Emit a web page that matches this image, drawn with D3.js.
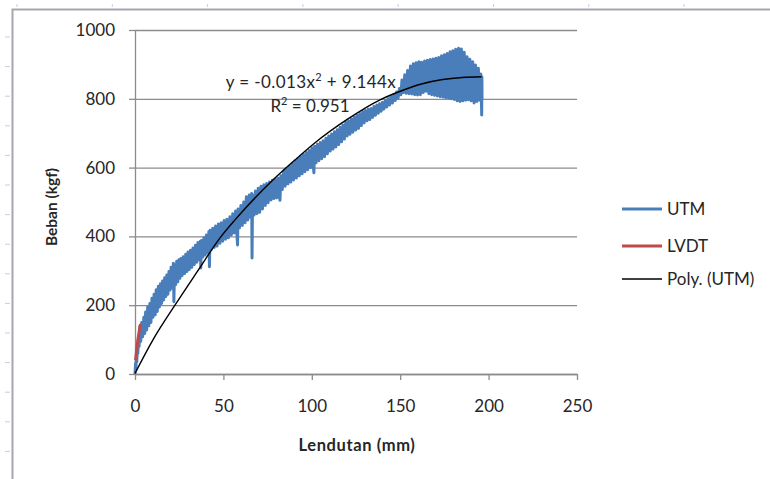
<!DOCTYPE html>
<html>
<head>
<meta charset="utf-8">
<script src="https://cdn.jsdelivr.net/npm/d3@7"></script>
<style>
  html, body { margin: 0; padding: 0; background: #fff; }
  svg text { font-family: Lato, "Open Sans", sans-serif; fill: #262626; }
</style>
</head>
<body>
<div id="container"></div>
<script>
const xTicks = [0, 50, 100, 150, 200, 250];
const yTicks = [0, 200, 400, 600, 800, 1000];

// UTM: deflection (mm), load (kgf) - noisy band
const utmPoints = [
  [0,0],[0.3,30],[0.5,15],[0.8,55],[1,35],[1.4,80],[1.6,60],[2,110],[2.3,80],[2.8,137],[3.2,95],[3.8,150],
  [4.3,108],[5,165],[5.5,118],[6,180],[6.6,128],[7.2,195],[7.8,140],[8.4,205],[9,150],[9.6,220],[10.2,165],
  [10.8,232],[11.4,172],[12,245],[12.6,182],[13.2,255],[13.8,195],[14.4,262],[15,205],[15.6,270],[16.2,215],
  [16.8,280],[17.4,225],[18,288],[18.6,232],[19.2,298],[19.8,244],[20.4,310],[21,250],[21.7,322],[22,210],
  [22.4,318],[23,260],[23.6,328],[24.2,268],[24.8,332],[25.4,278],[26,336],[26.6,286],[27.3,341],[28,292],
  [28.7,348],[29.4,298],[30,355],[30.7,304],[31.4,360],[32.1,310],[32.8,366],[33.5,318],[34.2,374],[34.9,325],
  [35.6,382],[36.3,332],[37,386],[37.2,308],[37.6,388],[38.3,340],[39,396],[39.7,346],[40.4,404],[41.1,352],
  [41.8,414],[42.1,312],[42.5,418],[43.2,362],[44,424],[44.8,368],[45.6,430],[46.4,372],[47.2,436],[48,380],
  [48.8,440],[49.6,386],[50.4,446],[51.2,392],[52,450],[52.8,396],[53.7,457],[54.5,404],[55.3,466],[56.1,410],
  [56.9,474],[57.5,419],[58,375],[58.3,480],[59.1,425],[59.9,490],[60.7,432],[61.5,500],[62.3,440],[63,515],
  [63.8,448],[64.6,520],[65.4,455],[66,525],[66.2,337],[66.5,520],[67.3,462],[68.1,532],[68.9,466],[69.7,540],
  [70.5,470],[71.3,546],[72.1,480],[72.9,550],[73.7,490],[74.5,554],[75.3,498],[76.1,558],[76.9,506],[77.7,563],
  [78.5,510],[79.3,566],[80.1,512],[80.9,570],[81.7,515],[82,505],[82.5,576],[83.3,536],[84.1,590],[84.9,546],
  [85.7,597],[86.5,553],[87.3,604],[88.1,558],[88.9,612],[89.7,564],[90.5,620],[91.3,570],[92.1,626],[92.9,576],
  [93.7,632],[94.5,582],[95.3,638],[96.1,588],[96.9,644],[97.7,594],[98.5,650],[99.3,600],[100.1,658],[100.8,608],
  [101.2,585],[101.6,662],[102.4,614],[103.2,668],[104,620],[104.8,673],[105.6,626],[106.4,678],[107.2,632],
  [108,685],[108.8,640],[109.6,692],[110.4,648],[111.2,698],[112,654],[112.8,704],[113.6,660],[114.4,710],
  [115.2,667],[116,717],[116.8,675],[117.6,724],[118.4,683],[119.2,732],[120,692],[120.8,736],[121.6,697],
  [122.4,741],[123.2,703],[124,747],[124.8,709],[125.6,752],[126.4,714],[127.2,757],[128,722],[128.8,763],
  [129.6,730],[130.4,766],[131.2,736],[132,770],[132.8,740],[133.6,772],[134.4,746],[135.2,778],[136,752],
  [136.8,782],[137.6,758],[138.4,786],[139.2,764],[140,790],[140.8,770],[141.6,795],[142.4,776],[143.2,800],
  [144,782],[144.8,806],[145.6,788],[146.4,812],[147.2,795],[148,820],[148.8,802],[149.6,830],[150.4,812],
  [151,855],[151.8,818],[152.6,870],[153.4,816],[154.2,882],[155,815],[155.8,895],[156.6,814],[157.4,902],
  [158.2,812],[159,905],[159.8,811],[160.6,908],[161.4,812],[162.2,906],[163,818],[163.8,910],[164.6,822],
  [165.4,912],[166.2,815],[167,914],[167.8,812],[168.6,916],[169.4,810],[170.2,918],[171,808],[171.8,920],
  [172.6,806],[173.4,925],[174.2,805],[175,928],[175.8,803],[176.6,932],[177.4,802],[178.2,937],[179,800],
  [179.8,940],[180.6,798],[181.4,944],[182.2,794],[183,947],[183.8,792],[184.6,945],[185.4,794],[186.2,935],
  [187,796],[187.8,922],[188.6,797],[189.4,915],[190.2,794],[191,908],[191.8,788],[192.6,898],[193.4,792],
  [194.2,889],[195,796],[195.6,872],[196.1,753],[196.2,864],[196.3,800]
];

// LVDT: short initial reading near the origin
const lvdtPoints = [
  [0.3,40],[0.8,60],[0.5,50],[1.3,85],[1,75],[1.8,105],[1.5,95],[2.4,125],[2.1,115],[2.9,142],[3.1,135]
];

// Poly. (UTM) trendline
const trendPoints = [
  [0,2],[10,98],[22.6,200],[35,296],[48,395],[60,468],[78,564],[90,620],[100.8,668],[120,740],
  [138.6,797],[150,822],[162,843],[174,856],[185,862],[196,864]
];

const legendItems = [
  {name: "UTM", color: "#4a7ebb", width: 3},
  {name: "LVDT", color: "#be4b48", width: 3},
  {name: "Poly. (UTM)", color: "#000000", width: 1.3}
];

const width = 770, height = 479;
const svg = d3.create("svg").attr("width", width).attr("height", height);

// spreadsheet edge marks and chart frame
svg.append("g").selectAll("line")
  .data(d3.range(37, height, 29.6))
  .join("line")
  .attr("x1", 5).attr("x2", 10).attr("y1", d => d).attr("y2", d => d)
  .attr("stroke", "#c5cfdc").attr("stroke-width", 1);
svg.append("g").selectAll("line")
  .data(d3.range(17, width, 95.3))
  .join("line")
  .attr("x1", d => d).attr("x2", d => d).attr("y1", 4).attr("y2", 7)
  .attr("stroke", "#c5cfdc").attr("stroke-width", 1);
svg.append("rect")
  .attr("x", 12.5).attr("y", 9.5).attr("width", 900).attr("height", 600)
  .attr("fill", "#fff").attr("stroke", "#a4a8ae").attr("stroke-width", 2);

const x = d3.scaleLinear().domain([0, 250]).range([135, 577]);
const y = d3.scaleLinear().domain([0, 1000]).range([374, 30]);

// horizontal gridlines
svg.append("g")
  .attr("transform", `translate(${x(0)},0)`)
  .call(d3.axisLeft(y).tickValues(yTicks).tickSize(-(x(250) - x(0))).tickFormat(""))
  .call(g => g.select(".domain").remove())
  .call(g => g.selectAll("line").attr("stroke", "#8c8c8c").attr("stroke-width", 1.3));

// left axis
svg.append("g")
  .attr("transform", `translate(${x(0)},0)`)
  .call(d3.axisLeft(y).tickValues(yTicks).tickFormat(d3.format("d"))
    .tickSize(6).tickPadding(14).tickSizeOuter(0))
  .call(g => g.select(".domain").attr("stroke", "#8c8c8c").attr("stroke-width", 1.3))
  .call(g => g.selectAll("line").attr("stroke", "#8c8c8c").attr("stroke-width", 1.3))
  .call(g => g.selectAll("text").attr("font-size", "17px").attr("fill", "#262626")
    .style("font-family", "Lato, sans-serif"));

// bottom axis
svg.append("g")
  .attr("transform", `translate(0,${y(0)})`)
  .call(d3.axisBottom(x).tickValues(xTicks).tickFormat(d3.format("d"))
    .tickSize(6).tickPadding(20).tickSizeOuter(0))
  .call(g => g.select(".domain").attr("stroke", "#8c8c8c").attr("stroke-width", 1.3))
  .call(g => g.selectAll("line").attr("stroke", "#8c8c8c").attr("stroke-width", 1.3))
  .call(g => g.selectAll("text").attr("font-size", "17px").attr("fill", "#262626")
    .style("font-family", "Lato, sans-serif"));

const line = d3.line().x(d => x(d[0])).y(d => y(d[1]));

svg.append("path")
  .datum(utmPoints)
  .attr("fill", "none")
  .attr("stroke", legendItems[0].color)
  .attr("stroke-width", 3)
  .attr("stroke-linejoin", "round")
  .attr("d", line);

svg.append("path")
  .datum(lvdtPoints)
  .attr("fill", "none")
  .attr("stroke", legendItems[1].color)
  .attr("stroke-width", 3)
  .attr("stroke-linejoin", "round")
  .attr("d", line);

svg.append("path")
  .datum(trendPoints)
  .attr("fill", "none")
  .attr("stroke", "#000")
  .attr("stroke-width", 1.4)
  .attr("d", line.curve(d3.curveMonotoneX));

// trendline label
svg.append("text")
  .attr("x", 311).attr("y", 88)
  .attr("text-anchor", "middle")
  .attr("font-size", "17px")
  .attr("letter-spacing", "0.4px")
  .html('y = -0.013x<tspan dy="-7" font-size="11px">2</tspan><tspan dy="7"> + 9.144x</tspan>');
svg.append("text")
  .attr("x", 310).attr("y", 112)
  .attr("text-anchor", "middle")
  .attr("font-size", "17px")
  .html('R<tspan dy="-7" font-size="11px">2</tspan><tspan dy="7"> = 0.951</tspan>');

// axis titles
svg.append("text")
  .attr("x", 357).attr("y", 451)
  .attr("text-anchor", "middle")
  .attr("font-size", "16.5px")
  .attr("letter-spacing", "0.6px")
  .attr("font-weight", "700")
  .text("Lendutan (mm)");
svg.append("text")
  .attr("transform", "translate(57,207) rotate(-90)")
  .attr("text-anchor", "middle")
  .attr("font-size", "15.5px")
  .attr("font-weight", "700")
  .text("Beban (kgf)");

// legend
const legend = svg.append("g");
legendItems.forEach((item, i) => {
  const ly = [209, 246, 279][i];
  legend.append("line")
    .attr("x1", 622).attr("x2", 662).attr("y1", ly).attr("y2", ly)
    .attr("stroke", item.color).attr("stroke-width", item.width);
  legend.append("text")
    .attr("x", 667).attr("y", ly + 6)
    .attr("font-size", "17px")
    .text(item.name);
});

document.getElementById("container").append(svg.node());
</script>
</body>
</html>
